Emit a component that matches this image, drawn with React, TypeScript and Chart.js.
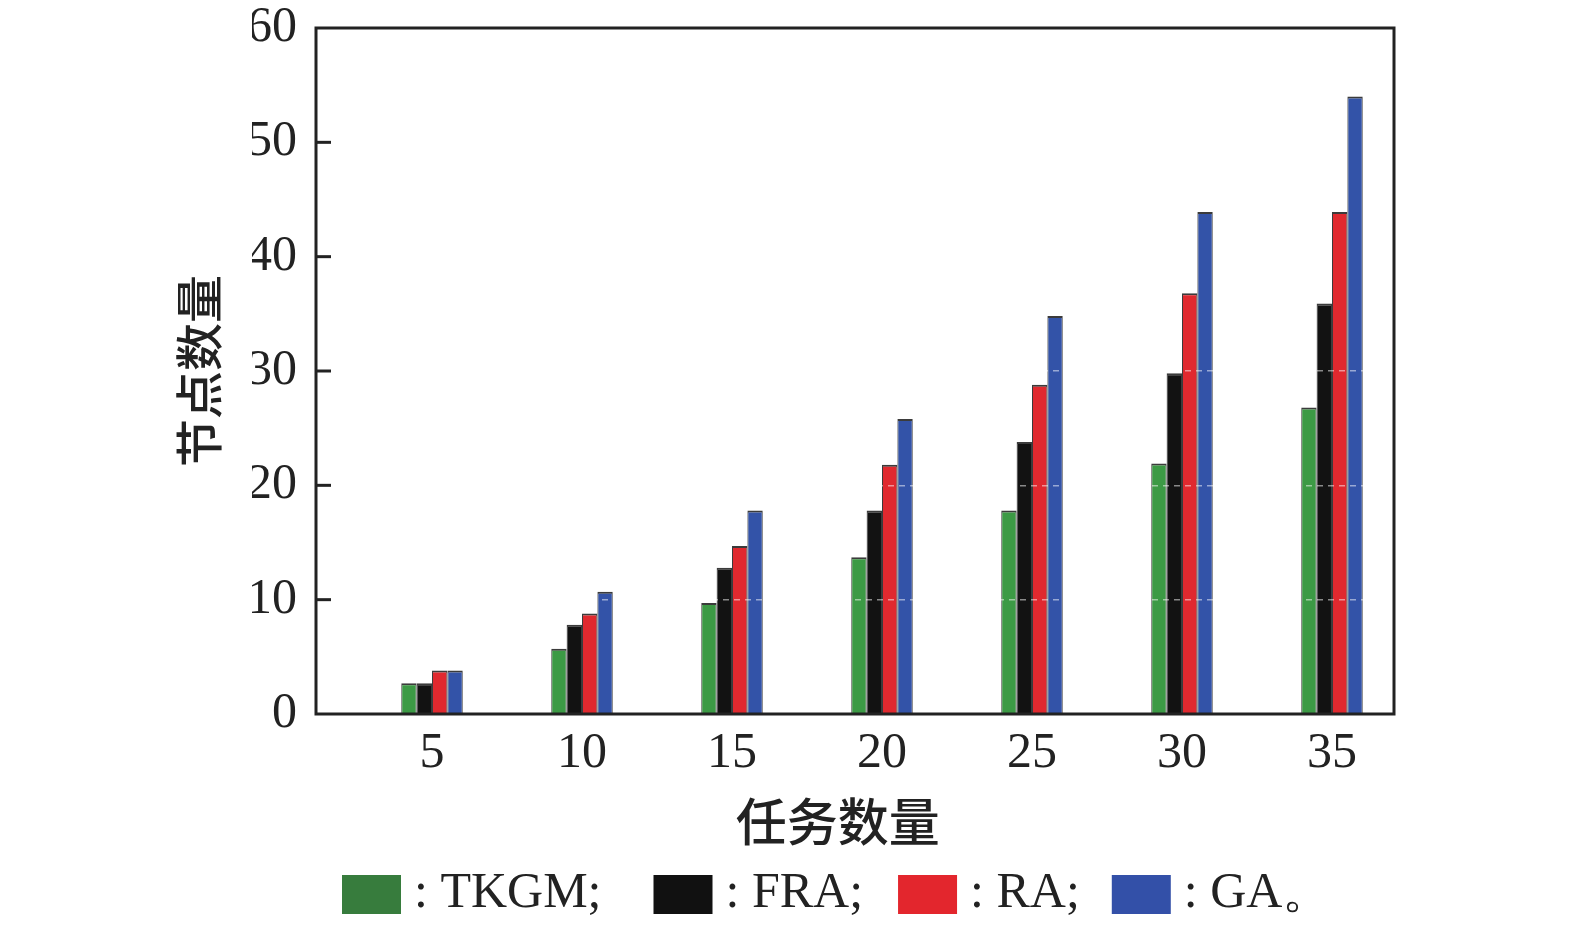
import { useEffect, useRef } from "react";
import { Chart, registerables } from "chart.js";
import type { Plugin } from "chart.js";

Chart.register(...registerables);

// task counts on the x axis
const taskCounts = [5, 10, 15, 20, 25, 30, 35];

// node counts per algorithm
const tkgm = [2.7, 5.7, 9.7, 13.7, 17.8, 21.9, 26.8];
const fra = [2.7, 7.8, 12.8, 17.8, 23.8, 29.8, 35.9];
const ra = [3.8, 8.8, 14.7, 21.8, 28.8, 36.8, 43.9];
const ga = [3.8, 10.7, 17.8, 25.8, 34.8, 43.9, 54];

const seriesNames = ["TKGM", "FRA", "RA", "GA"];
const legendTexts = [": TKGM;", ": FRA;", ": RA;", ": GA。"];
const yTickValues = [0, 10, 20, 30, 40, 50, 60];

const barColors = ["#3c9a45", "#121212", "#e0292f", "#3353a8"];
const legendColors = ["#377c3d", "#111111", "#e3262d", "#3350a8"];

const serif = "'Liberation Serif', 'Times New Roman', serif";
const cjk = "'Noto Sans CJK SC', sans-serif";
const ink = "#222";

// box around the plot plus the inward ticks on the y axis
const framePlugin: Plugin<"bar"> = {
  id: "frame",
  afterDraw(chart) {
    const { ctx, chartArea: a } = chart;
    const y = chart.scales.y;
    ctx.save();
    ctx.strokeStyle = ink;
    ctx.lineWidth = 3;
    ctx.strokeRect(a.left, a.top, a.right - a.left, a.bottom - a.top);
    yTickValues.slice(1, -1).forEach((v) => {
      const py = y.getPixelForValue(v);
      ctx.beginPath();
      ctx.moveTo(a.left, py);
      ctx.lineTo(a.left + 15, py);
      ctx.stroke();
    });
    ctx.restore();
  },
};

// legend row under the x title: "[box] : NAME;"
const legendGaps = [52, 35, 32];
const legendPlugin: Plugin<"bar"> = {
  id: "legendRow",
  afterDraw(chart) {
    const { ctx } = chart;
    ctx.save();
    ctx.font = `50px ${serif}`;
    ctx.textBaseline = "alphabetic";
    const boxW = 59;
    const boxH = 39;
    const textGap = 13;
    let x = 342;
    legendTexts.forEach((t, i) => {
      ctx.fillStyle = legendColors[i];
      ctx.fillRect(x, 875, boxW, boxH);
      ctx.fillStyle = ink;
      ctx.fillText(t, x + boxW + textGap, 907);
      x += boxW + textGap + ctx.measureText(t).width + (legendGaps[i] ?? 0);
    });
    ctx.restore();
  },
};

export default function App() {
  const canvasRef = useRef<HTMLCanvasElement | null>(null);

  useEffect(() => {
    document.body.style.margin = "0";
    if (!canvasRef.current) return;

    const series = [tkgm, fra, ra, ga];
    const chart = new Chart(canvasRef.current, {
      type: "bar",
      data: {
        datasets: series.map((vals, i) => ({
          label: seriesNames[i],
          data: taskCounts.map((x, j) => ({ x, y: vals[j] })),
          backgroundColor: barColors[i],
          borderColor: "rgba(25,25,25,0.85)",
          borderWidth: { top: 2, left: 1, right: 1, bottom: 0 },
          categoryPercentage: 0.41,
          barPercentage: 1,
        })),
      },
      options: {
        animation: false,
        responsive: false,
        devicePixelRatio: 1,
        layout: { padding: { left: 252, right: 181, top: 28, bottom: 70 } },
        plugins: {
          tooltip: { enabled: false },
          legend: { display: false },
        },
        scales: {
          x: {
            type: "linear",
            min: 1.133,
            max: 37.067,
            offset: false,
            afterBuildTicks: (s) => {
              s.ticks = taskCounts.map((v) => ({ value: v }));
            },
            afterFit: (s) => {
              s.height = 142;
            },
            grid: { display: false, drawTicks: false },
            border: { display: false },
            ticks: {
              color: ink,
              padding: 15,
              autoSkip: false,
              maxRotation: 0,
              font: { family: serif, size: 50, lineHeight: 1 },
              callback: (v) => String(v),
            },
            title: {
              display: true,
              text: "任务数量   ",
              color: ink,
              font: { family: cjk, size: 51, weight: "500" },
              padding: { top: 0, bottom: 4 },
            },
          },
          y: {
            min: 0,
            max: 60,
            afterFit: (s) => {
              s.width = 64;
              s.paddingTop = 0;
              s.paddingBottom = 0;
            },
            grid: {
              drawTicks: false,
              z: 1,
              lineWidth: 1.5,
              color: (c) =>
                c.tick && [10, 20, 30].includes(c.tick.value)
                  ? "rgba(255,255,255,0.5)"
                  : "rgba(0,0,0,0)",
            },
            border: { display: false, dash: [6, 5] },
            ticks: {
              stepSize: 10,
              color: ink,
              padding: 19,
              font: { family: serif, size: 50, lineHeight: 1 },
            },
            title: {
              display: true,
              text: "节点数量",
              color: ink,
              font: { family: cjk, size: 48, weight: "500" },
              padding: { top: -82, bottom: 0 },
            },
          },
        },
      },
      plugins: [framePlugin, legendPlugin],
    });

    return () => {
      chart.destroy();
    };
  }, []);

  return (
    <div style={{ position: "relative", width: 1575, height: 926, background: "#fff" }}>
      <canvas ref={canvasRef} width={1575} height={926} style={{ width: 1575, height: 926 }} />
    </div>
  );
}
